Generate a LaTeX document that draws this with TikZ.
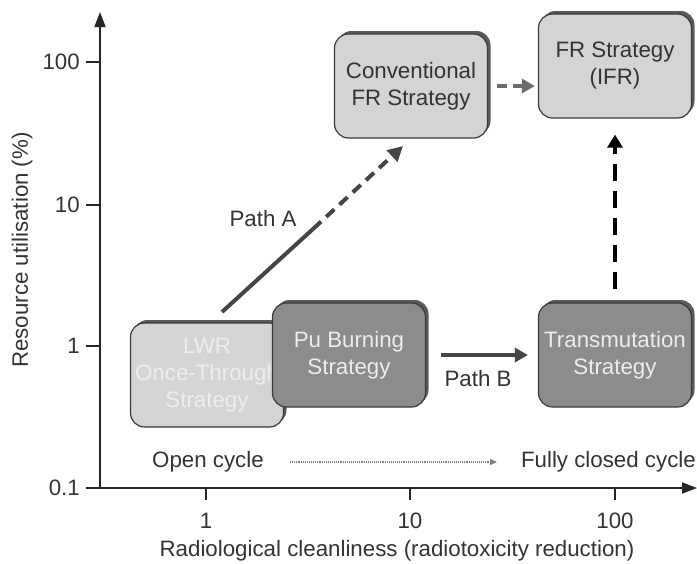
\documentclass[tikz,border=0pt]{standalone}
\usepackage{fontspec}
\setmainfont{Liberation Sans}
\usetikzlibrary{arrows.meta,shadows}
\definecolor{boxlight}{HTML}{D4D4D4}
\definecolor{boxdark}{HTML}{8C8C8C}
\definecolor{edge}{HTML}{3A3A3A}
\definecolor{shade}{HTML}{5A5A5A}
\definecolor{txt}{HTML}{333333}
\definecolor{arrowgray}{HTML}{444444}
\tikzset{
  x=1pt, y=-1pt,
  lbl/.style={text=txt, font=\fontsize{22.3}{27}\selectfont, inner sep=0pt},
  stratbox/.style={draw=edge, line width=1.2pt, rounded corners=14pt,
    minimum width=153pt, minimum height=104pt, align=center,
    font=\fontsize{22.3}{27}\selectfont,
    general shadow={shadow xshift=3pt, shadow yshift=3pt, fill=shade}},
  lightbox/.style={stratbox, fill=boxlight},
  darkbox/.style={stratbox, fill=boxdark},
  axisline/.style={draw=black!85, line width=1.6pt},
  tickline/.style={draw=black!85, line width=1.2pt},
  fat/.style={line width=4.5pt},
}
\begin{document}
\begin{tikzpicture}
\useasboundingbox (0,0) rectangle (697,563);

% axes
\coordinate (orig) at (100,488);
\coordinate (ytop) at (100,12);
\coordinate (xend) at (697,488);
\draw[axisline, -{Triangle[length=15pt,width=11pt]}] (orig) -- (ytop);
\draw[axisline, -{Triangle[length=15pt,width=11pt]}] (orig) -- (xend);

% y ticks and labels
\foreach \yy/\t in {62/100, 205/10, 346/1, 488/0.1}{
  \draw[tickline] (86,\yy) -- (100,\yy);
  \node[lbl, anchor=east] at (80,\yy) {\t};
}
% x ticks and labels
\foreach \xx/\t in {206/1, 410/10, 615/100}{
  \draw[tickline] (\xx,488) -- (\xx,500);
  \node[lbl] at (\xx,521) {\t};
}

\node[lbl, rotate=90] (ylab) at (22,250) {Resource utilisation (\%)};
\node[lbl] (xlab) at (397,551) {Radiological cleanliness (radiotoxicity reduction)};

% cycle indicator
\node[lbl, anchor=west] (open) at (152,462) {Open cycle};
\node[lbl, anchor=east] (closed) at (696,462) {Fully closed cycle};
\draw[gray, densely dotted, line width=1.1pt, -{Triangle[length=7pt,width=6pt]}]
  (290,462) -- (497,462);

% strategy boxes
\node[lightbox, text=white!93!black] (lwr) at (207,375) {LWR\\Once-Through\\Strategy};
\node[darkbox, text=white!93!black] (pu) at (349,355) {Pu Burning\\Strategy};
\node[lightbox, text=txt] (conv) at (411,86) {Conventional\\FR Strategy};
\node[lightbox, text=txt] (ifr) at (615,66) {FR Strategy\\(IFR)};
\node[darkbox, text=white!93!black] (trans) at (615,355) {Transmutation\\Strategy};

% Path A: solid, then dashed towards the conventional FR box
\coordinate (pa0) at (222,312);
\coordinate (pa1) at (313,229);
\coordinate (pa2) at (403,146);
\draw[arrowgray, line width=4pt] (pa0) -- (pa1);
\draw[arrowgray, line width=4pt, dash pattern=on 11pt off 7pt,
  -{Triangle[length=15pt,width=15pt]}] (pa1) -- (pa2);
\node[lbl] (pathA) at (263,219) {Path A};

% Path B
\draw[arrowgray, fat, -{Triangle[length=13pt,width=14pt]}]
  ([xshift=15pt]pu.east) -- ([xshift=-10pt]trans.west);
\node[lbl] (pathB) at (478,379) {Path B};

% dashed links to the IFR strategy
\draw[gray!85!black, fat, dash pattern=on 10pt off 6pt,
  -{Triangle[length=13pt,width=14pt]}]
  ([xshift=9pt]conv.east) -- ([xshift=-3pt]ifr.west |- conv.east);
\draw[black, fat, dash pattern=on 17pt off 10pt,
  -{Triangle[length=13pt,width=15pt]}]
  ([yshift=13pt]trans.north) -- ([yshift=-16pt]ifr.south);
\end{tikzpicture}
\end{document}
